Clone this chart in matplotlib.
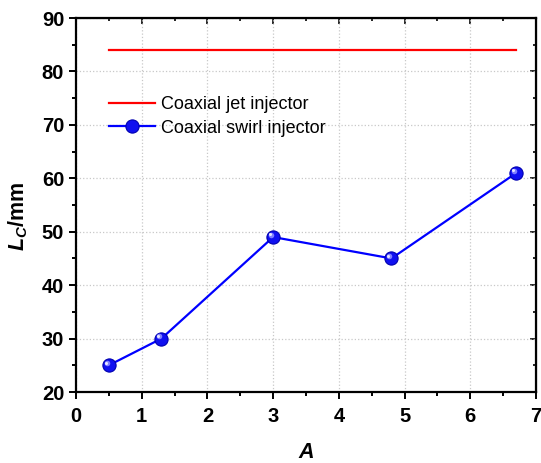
import matplotlib.pyplot as plt
from matplotlib.ticker import MultipleLocator

plt.rcParams["font.family"] = ["Liberation Sans", "DejaVu Sans"]
plt.rcParams["mathtext.fontset"] = "custom"
plt.rcParams["mathtext.it"] = "Liberation Sans:italic:bold"
plt.rcParams["mathtext.rm"] = "Liberation Sans:bold"

# swirl injector results
A_swirl = [0.5, 1.3, 3.0, 4.8, 6.7]
Lc_swirl = [25, 30, 49, 45, 61]

# jet injector reference level
A_jet = [0.5, 6.7]
Lc_jet = [84, 84]

fig = plt.figure(figsize=(5.41, 4.63), dpi=100)
ax = fig.add_axes([76 / 541, 71 / 463, 460 / 541, 374 / 463])

ax.plot(A_jet, Lc_jet, color="red", lw=1.6, label="Coaxial jet injector")
ax.plot(A_swirl, Lc_swirl, color="blue", lw=1.6, marker="o", ms=9.5,
        mfc="#1010f0", mec="#0000b0", mew=0.8, label="Coaxial swirl injector")
# glossy highlight on each marker
for x, y in zip(A_swirl, Lc_swirl):
    ax.plot(x - 0.035, y + 0.4, ls="none", marker="o", ms=4, mfc="#8080ff",
            mec="none", zorder=4)
    ax.plot(x - 0.045, y + 0.5, ls="none", marker="o", ms=2.2, mfc="#e8e8ff",
            mec="none", zorder=5)

ax.set_xlim(0, 7)
ax.set_ylim(20, 90)
ax.xaxis.set_major_locator(MultipleLocator(1))
ax.xaxis.set_minor_locator(MultipleLocator(0.5))
ax.yaxis.set_major_locator(MultipleLocator(10))
ax.yaxis.set_minor_locator(MultipleLocator(5))

ax.grid(True, which="major", color="#c8c8c8", ls=":", lw=0.9)
for s in ax.spines.values():
    s.set_linewidth(1.6)

ax.tick_params(which="both", direction="out", width=1.4, labelsize=14.5)
ax.tick_params(which="major", length=5)
ax.tick_params(which="minor", length=3)
ax.tick_params(axis="x", pad=6)
for lab in ax.get_xticklabels() + ax.get_yticklabels():
    lab.set_fontweight("bold")

# inward ticks on the top and right spines
axt = ax.secondary_xaxis("top")
axt.xaxis.set_major_locator(MultipleLocator(1))
axt.xaxis.set_minor_locator(MultipleLocator(0.5))
axt.tick_params(which="both", direction="in", width=1.2, labeltop=False)
axt.tick_params(which="major", length=4)
axt.tick_params(which="minor", length=2.5)
axr = ax.secondary_yaxis("right")
axr.yaxis.set_major_locator(MultipleLocator(10))
axr.yaxis.set_minor_locator(MultipleLocator(5))
axr.tick_params(which="both", direction="in", width=1.2, labelright=False)
axr.tick_params(which="major", length=4)
axr.tick_params(which="minor", length=2.5)

ax.set_xlabel("$A$", fontsize=15.5)
ax.xaxis.set_label_coords(0.5, -0.135)
ax.set_ylabel("$L_C$/mm", fontsize=15.5, fontweight="bold")
ax.yaxis.set_label_coords(-0.1, 0.47)

ax.legend(loc="upper left", bbox_to_anchor=(0.055, 0.81), frameon=False,
          fontsize=13, handlelength=2.6, handletextpad=0.3,
          labelspacing=0.35, borderaxespad=0)

fig.savefig("out.png", dpi=100)
